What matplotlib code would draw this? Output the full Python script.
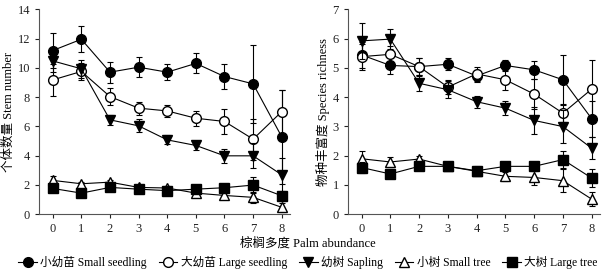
import matplotlib
matplotlib.use("Agg")
import matplotlib.pyplot as plt
from matplotlib.lines import Line2D

FAM = ['Liberation Serif', 'Noto Sans CJK SC']
plt.rcParams['font.family'] = FAM

x = [0, 1, 2, 3, 4, 5, 6, 7, 8]

# Stem number
stem_ss = [11.18, 11.95, 9.7, 10.04, 9.7, 10.3, 9.4, 8.9, 5.28]
stem_ss_err = [1.2, 0.9, 0.72, 0.7, 0.55, 0.68, 0.85, 2.65, 3.2]
stem_ls = [9.17, 9.75, 8.03, 7.24, 7.05, 6.55, 6.33, 5.12, 7.0]
stem_ls_err = [1.1, 0.6, 0.57, 0.45, 0.4, 0.5, 0.85, 1.4, 1.5]
stem_sp = [10.47, 9.93, 6.44, 6.03, 5.07, 4.69, 3.98, 3.98, 2.68]
stem_sp_err = [0.75, 0.6, 0.35, 0.45, 0.3, 0.3, 0.5, 0.85, 1.15]
stem_st = [2.3, 2.07, 2.18, 1.82, 1.78, 1.43, 1.27, 1.14, 0.46]
stem_st_err = [0.3, 0.15, 0.15, 0.15, 0.15, 0.15, 0.2, 0.4, 0.3]
stem_lt = [1.75, 1.43, 1.82, 1.7, 1.6, 1.7, 1.8, 1.98, 1.25]
stem_lt_err = [0.25, 0.15, 0.15, 0.15, 0.15, 0.15, 0.2, 0.55, 0.35]

# Species richness
rich_ss = [5.44, 5.08, 5.04, 5.12, 4.72, 5.08, 4.93, 4.59, 3.26]
rich_ss_err = [0.45, 0.3, 0.3, 0.2, 0.2, 0.2, 0.3, 0.85, 0.62]
rich_ls = [5.38, 5.46, 5.04, 4.34, 4.79, 4.59, 4.1, 3.45, 4.27]
rich_ls_err = [0.45, 0.3, 0.3, 0.25, 0.25, 0.35, 0.5, 0.3, 1.0]
rich_sp = [5.92, 5.98, 4.47, 4.25, 3.84, 3.62, 3.2, 2.99, 2.25]
rich_sp_err = [0.62, 0.33, 0.25, 0.3, 0.2, 0.25, 0.45, 0.55, 0.38]
rich_st = [1.89, 1.78, 1.88, 1.63, 1.46, 1.29, 1.25, 1.14, 0.51]
rich_st_err = [0.25, 0.17, 0.1, 0.08, 0.15, 0.15, 0.25, 0.4, 0.25]
rich_lt = [1.59, 1.37, 1.63, 1.63, 1.48, 1.63, 1.63, 1.86, 1.23]
rich_lt_err = [0.2, 0.1, 0.1, 0.1, 0.15, 0.1, 0.15, 0.3, 0.3]

labels = ['小幼苗 Small seedling', '大幼苗 Large seedling', '幼树 Sapling',
          '小树 Small tree', '大树 Large tree']
markers = ['o', 'o', 'v', '^', 's']
faces = ['black', 'white', 'black', 'white', 'black']

fig = plt.figure(figsize=(6.16, 2.73), dpi=100)
ax1 = fig.add_axes([0.0633, 0.216, 0.408, 0.750])
ax2 = fig.add_axes([0.5645, 0.216, 0.410, 0.750])

def draw(ax, series, errs, ymax, ylabel):
    for i, (y, e) in enumerate(zip(series, errs)):
        ax.errorbar(x, y, yerr=e, color='black', marker=markers[i],
                    markerfacecolor=faces[i], markeredgecolor='black',
                    markersize=7, linewidth=0.8, elinewidth=0.8,
                    capsize=2.5, capthick=0.8, zorder=3 + i)
    ax.set_xlim(-0.48, 8.3)
    ax.set_ylim(0, ymax)
    ax.set_xticks(x)
    ax.set_yticks(range(0, ymax + 1, 2 if ymax > 10 else 1))
    for s in ['top', 'right']:
        ax.spines[s].set_visible(False)
    ax.spines['left'].set_color('#555555')
    ax.spines['bottom'].set_color('#555555')
    ax.tick_params(direction='out', length=3, width=0.8, labelsize=9,
                   colors='#222222')
    ax.set_ylabel(ylabel, fontsize=9, family=FAM, labelpad=2)

draw(ax1, [stem_ss, stem_ls, stem_sp, stem_st, stem_lt],
     [stem_ss_err, stem_ls_err, stem_sp_err, stem_st_err, stem_lt_err],
     14, '个体数量 Stem number')
draw(ax2, [rich_ss, rich_ls, rich_sp, rich_st, rich_lt],
     [rich_ss_err, rich_ls_err, rich_sp_err, rich_st_err, rich_lt_err],
     7, '物种丰富度 Species richness')

fig.text(0.5, 0.108, '棕榈多度 Palm abundance', ha='center', va='center',
         fontsize=9, family=FAM)

handles = [Line2D([0], [0], color='black', marker=m, markerfacecolor=f,
                  markeredgecolor='black', markersize=7, linewidth=0.8)
           for m, f in zip(markers, faces)]
fig.legend(handles, labels, loc='center', bbox_to_anchor=(0.5, 0.04),
           ncol=5, frameon=False, fontsize=8.4, handlelength=1.6,
           handletextpad=0.3, columnspacing=1.0, borderaxespad=0,
           borderpad=0)

fig.savefig('out.png', dpi=100)
